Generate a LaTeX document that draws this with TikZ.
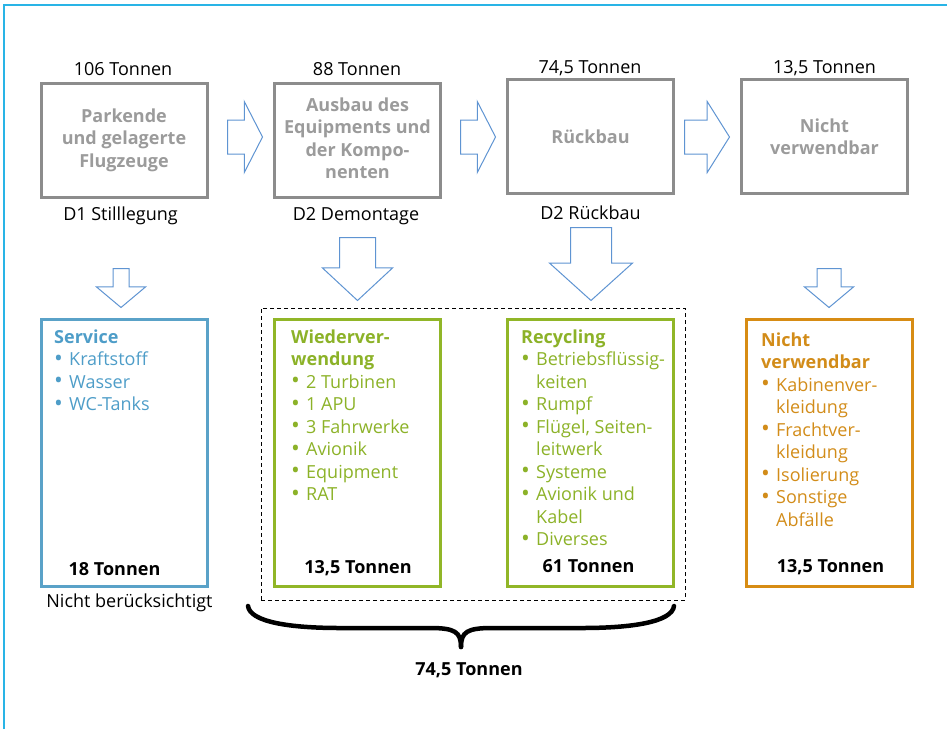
\documentclass[tikz,border=0pt]{standalone}
\usepackage{fontspec}
\usepackage{graphicx}
\setmainfont{Open Sans}
\usetikzlibrary{shapes.arrows,calc}
\definecolor{frameblue}{RGB}{41,180,230}
\definecolor{boxgray}{RGB}{140,140,140}
\definecolor{textgray}{RGB}{155,155,155}
\definecolor{arrowblue}{RGB}{95,148,210}
\definecolor{servblue}{RGB}{90,162,200}
\definecolor{servtext}{RGB}{78,157,200}
\definecolor{recgreen}{RGB}{145,182,40}
\definecolor{rectext}{RGB}{140,178,40}
\definecolor{wasteorange}{RGB}{215,140,20}
\definecolor{wastetext}{RGB}{210,140,25}
\newcommand\bitem{\makebox[15pt][l]{\raisebox{-0.6pt}{\scalebox{1.3}{\textbullet}}}}
\newcommand\bcont{\hspace*{15pt}}
\tikzset{
  txt/.style={font=\fontsize{18}{22.5}\selectfont, inner sep=0pt},
  boldtxt/.style={font=\fontsize{18}{22.5}\selectfont\bfseries, inner sep=0pt},
  graybox/.style={draw=boxgray, line width=3pt, boldtxt, text=textgray, align=center,
    minimum width=166pt, minimum height=114pt},
  catbox/.style={line width=3pt, minimum width=166pt, minimum height=267pt},
  listtxt/.style={txt, align=left, anchor=base west},
  blockarrow/.style={single arrow, draw=arrowblue, line width=1pt, fill=white, anchor=tail},
  rarrow/.style={blockarrow, inner xsep=0pt, inner ysep=16.5pt, single arrow head extend=18.5pt},
  darrow/.style={blockarrow, inner ysep=0pt, shape border rotate=270},
}
\begin{document}
\begin{tikzpicture}[x=1pt,y=-1pt]
\useasboundingbox (0,0) rectangle (947,729);
% frame
\draw[frameblue, line width=1.5pt] (4,729) -- (4,5) -- (947,5);

% top row
\node[graybox] (b1) at (124,140) {Parkende\\und gelagerte\\Flugzeuge};
\node[graybox] (b2) at (357.5,140) {};
\node[boldtxt, text=textgray, align=center] (b2t) at (357.5,138) {Ausbau des\\Equipments und\\der Kompo-\\nenten};
\node[graybox] (b3) at (590.5,136.5) {Rückbau};
\node[graybox] (b4) at (824.5,136.5) {Nicht\\verwendbar};

\node[txt, anchor=base] (t1) at (123,75) {106 Tonnen};
\node[txt, anchor=base] (t2) at (357,75) {88 Tonnen};
\node[txt, anchor=base] (t3) at (590,73) {74,5 Tonnen};
\node[txt, anchor=base] (t4) at (824.5,73) {13,5 Tonnen};

\node[txt, anchor=base] (d1) at (120.5,220) {D1 Stilllegung};
\node[txt, anchor=base] (d2) at (356,220) {D2 Demontage};
\node[txt, anchor=base] (d3) at (590.5,219) {D2 Rückbau};

% right arrows
\node[rarrow, minimum height=35pt, single arrow tip angle=125.7] (a12) at (227,137) {};
\node[rarrow, minimum height=35pt, single arrow tip angle=125.7] (a23) at (460,137) {};
\node[rarrow, minimum height=45pt, single arrow tip angle=115.7] (a34) at (684,137) {};

% down arrows
\node[darrow, inner xsep=7.5pt, single arrow head extend=16.5pt, minimum height=39pt, single arrow tip angle=100] (ad1) at (121,268) {};
\node[darrow, inner xsep=17.5pt, single arrow head extend=17pt, minimum height=63pt, single arrow tip angle=94.2] (ad2) at (357.5,237) {};
\node[darrow, inner xsep=20pt, single arrow head extend=21pt, minimum height=73pt, single arrow tip angle=95.9] (ad3) at (591,227) {};
\node[darrow, inner xsep=11.5pt, single arrow head extend=12.5pt, minimum height=39pt, single arrow tip angle=100] (ad4) at (829,268) {};

% dashed group
\node[draw, line width=1pt, dash pattern=on 4pt off 3pt, minimum width=424pt, minimum height=292pt] (grp) at (473,454) {};

% bottom boxes
\node[catbox, draw=servblue] (serv) at (124,452.5) {};
\node[catbox, draw=recgreen] (reuse) at (357,452.5) {};
\node[catbox, draw=recgreen] (recyc) at (590.5,452.5) {};
\node[catbox, draw=wasteorange] (waste) at (829,452.5) {};

% (anchor base = baseline of the last line)
\node[listtxt, text=servtext] (servl) at (54,410.5)
  {\textbf{Service}\\\bitem Kraftstoff\\\bitem Wasser\\\bitem WC-Tanks};
\node[listtxt, text=rectext] (reusel) at (291,500.5)
  {\textbf{Wiederver-}\\\textbf{wendung}\\\bitem 2 Turbinen\\\bitem 1 APU\\\bitem 3 Fahrwerke\\\bitem Avionik\\\bitem Equipment\\\bitem RAT};
\node[listtxt, text=rectext] (recycl) at (521,545.5)
  {\textbf{Recycling}\\\bitem Betriebsflüssig-\\\bcont keiten\\\bitem Rumpf\\\bitem Flügel, Seiten-\\\bcont leitwerk\\\bitem Systeme\\\bitem Avionik und\\\bcont Kabel\\\bitem Diverses};
\node[listtxt, text=wastetext] (wastel) at (761,526)
  {\textbf{Nicht}\\\textbf{verwendbar}\\\bitem Kabinenver-\\\bcont kleidung\\\bitem Frachtver-\\\bcont kleidung\\\bitem Isolierung\\\bitem Sonstige\\\bcont Abfälle};

\node[boldtxt, anchor=base] (servt) at (114.5,575) {18 Tonnen};
\node[boldtxt, anchor=base] (reuset) at (358,573) {13,5 Tonnen};
\node[boldtxt, anchor=base] (recyct) at (588.5,572) {61 Tonnen};
\node[boldtxt, anchor=base] (wastet) at (830.5,572) {13,5 Tonnen};
\node[txt, anchor=base] (servn) at (129.5,607) {Nicht berücksichtigt};

% brace
\coordinate (brL) at (248,606);
\coordinate (brR) at (674,606);
\coordinate (brT) at (461,647);
\draw[line width=4.5pt, line cap=round]
  (brL) .. controls (250,622) and (290,628) .. (340,628) -- (430,628)
  .. controls (455,628) and (461,632) .. (brT);
\draw[line width=4.5pt, line cap=round]
  (brR) .. controls (672,622) and (632,628) .. (582,628) -- (492,628)
  .. controls (467,628) and (461,632) .. (brT);
\node[boldtxt, anchor=base] (total) at (469,675) {74,5 Tonnen};
\end{tikzpicture}
\end{document}
